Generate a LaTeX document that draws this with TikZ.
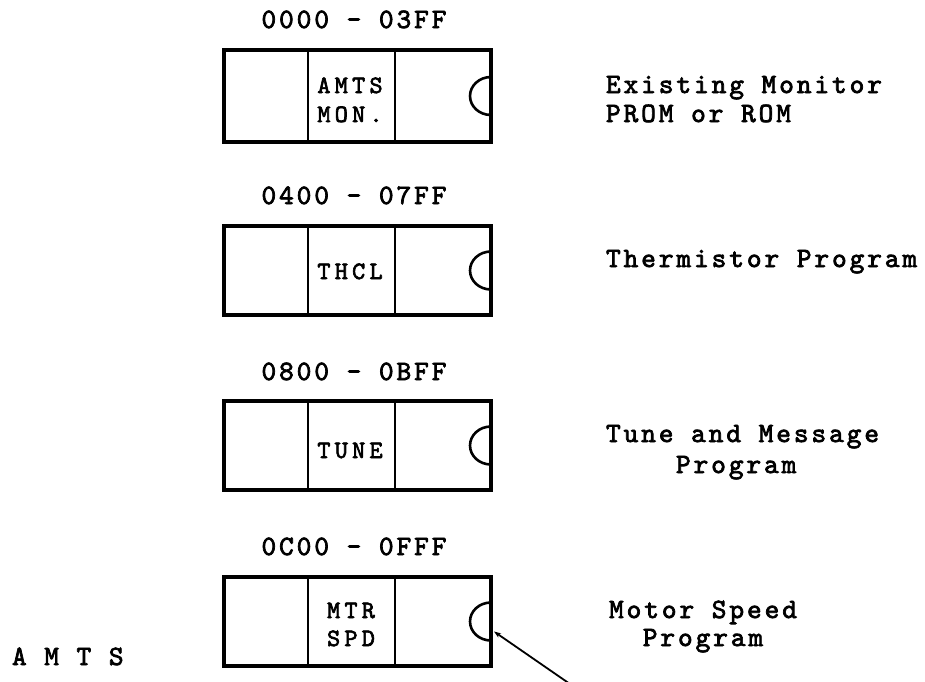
\documentclass[tikz,border=0pt]{standalone}
\usepackage{fontspec}
\newfontfamily\typer{lmmono10-regular.otf}[LetterSpace=10.4,FakeBold=2.6]
\newfontfamily\typesm{lmmono10-regular.otf}[LetterSpace=17,FakeBold=2.6]
\usetikzlibrary{arrows.meta,calc}
\newcommand\chipnotch[1]{%
  \draw[notch] ($(#1.east)+(0,-19)$) .. controls ($(#1.east)+(-11.6,-19)$) and ($(#1.east)+(-21,-10.5)$) .. ($(#1.east)+(-21,0)$)
    .. controls ($(#1.east)+(-21,10.5)$) and ($(#1.east)+(-11.6,19)$) .. ($(#1.east)+(0,19)$);}
\newcommand\chipdivs[1]{%
  \draw[div] ($(#1.north west)+(84,0)$) -- ($(#1.south west)+(84,0)$);
  \draw[div] ($(#1.north west)+(171,0)$) -- ($(#1.south west)+(171,0)$);}
\begin{document}
\begin{tikzpicture}[x=1pt,y=-1pt,
  lbl/.style={font=\typer\fontsize{28}{30}\selectfont, inner sep=0pt, outer sep=0pt},
  inlbl/.style={font=\typesm\fontsize{25}{27}\selectfont, inner sep=0pt, outer sep=0pt},
  chip/.style={draw, line width=3.4pt, minimum width=267pt, inner sep=0pt, outer sep=0pt, anchor=north west},
  div/.style={line width=2.6pt},
  notch/.style={line width=2.6pt},
  pointer/.style={line width=1.8pt, -{Stealth[length=7pt,width=5pt]}}]
\useasboundingbox (0,0) rectangle (925,681);

% chips
\node[chip, minimum height=92pt] (b1) at (224,50) {};
\node[chip, minimum height=89pt] (b2) at (224,226) {};
\node[chip, minimum height=89pt] (b3) at (224,401) {};
\node[chip, minimum height=89pt] (b4) at (224,577) {};
\chipdivs{b1}\chipdivs{b2}\chipdivs{b3}\chipdivs{b4}
\chipnotch{b1}\chipnotch{b2}\chipnotch{b3}\chipnotch{b4}

% address ranges
\node[lbl, anchor=base] (a1) at (354,28) {0000 - 03FF};
\node[lbl, anchor=base] (a2) at (354,204) {0400 - 07FF};
\node[lbl, anchor=base] (a3) at (354,380) {0800 - 0BFF};
\node[lbl, anchor=base] (a4) at (354,555) {0C00 - 0FFF};

% chip contents
\node[inlbl, anchor=base] (t1a) at (350,93) {AMTS};
\node[inlbl, anchor=base] (t1b) at (350,122) {MON.};
\node[inlbl, anchor=base] (t2) at (350,279) {THCL};
\node[inlbl, anchor=base] (t3) at (350,458) {TUNE};
\node[inlbl, anchor=base] (t4a) at (351,618) {MTR};
\node[inlbl, anchor=base] (t4b) at (351,646) {SPD};

% descriptions
\node[lbl, anchor=base west] (d1a) at (606,93) {Existing Monitor};
\node[lbl, anchor=base west] (d1b) at (606,122) {PROM or ROM};
\node[lbl, anchor=base west] (d2) at (606,267) {Thermistor Program};
\node[lbl, anchor=base west] (d3a) at (606,442) {Tune and Message};
\node[lbl, anchor=base west] (d3b) at (676,473) {Program};
\node[lbl, anchor=base] (d4a) at (703,618) {Motor Speed};
\node[lbl, anchor=base] (d4b) at (703,646) {Program};

\node[lbl, anchor=base west] (amts) at (12,665) {A M T S};

% pointer
\coordinate (ptail) at (570,684);
\coordinate (ptip) at ($(b4.east)+(3,10)$);
\draw[pointer] (ptail) -- (ptip);
\end{tikzpicture}
\end{document}
